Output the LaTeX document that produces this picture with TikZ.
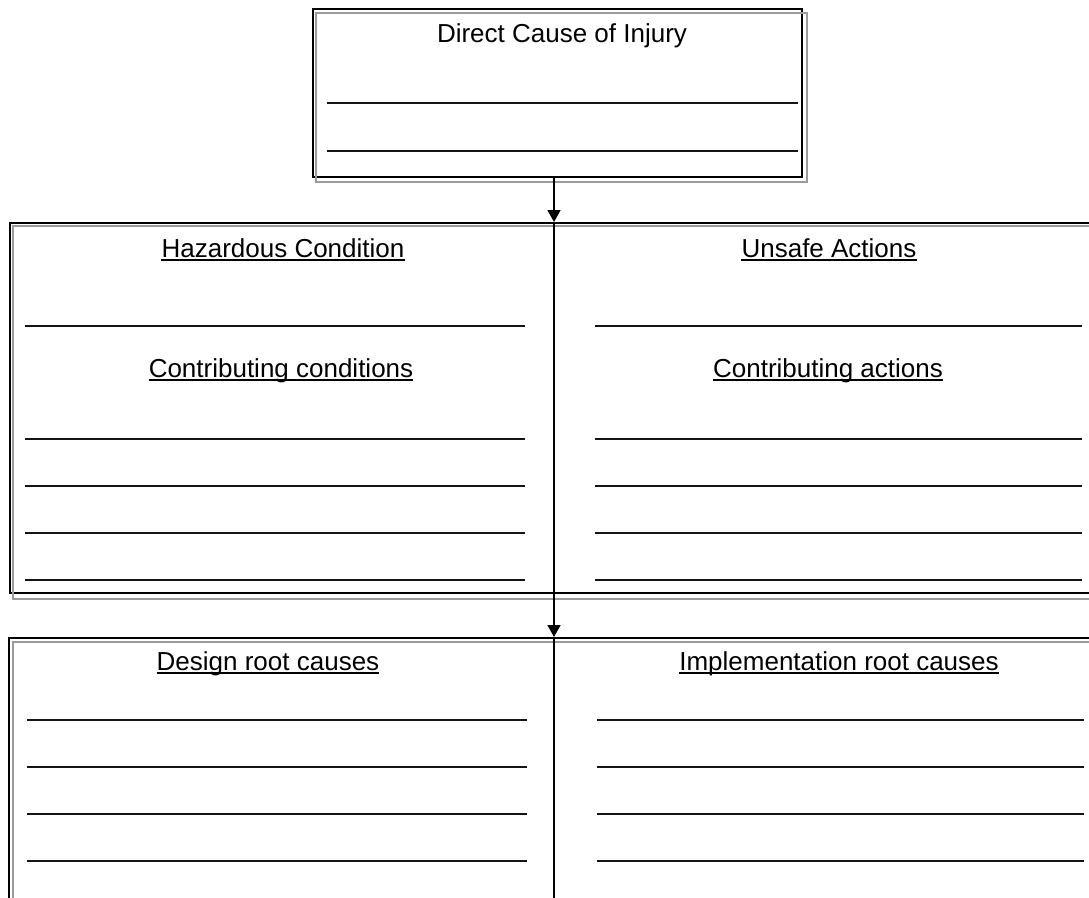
\documentclass[tikz,border=0pt]{standalone}
\usepackage{fontspec}
\setmainfont{Liberation Sans}
\usetikzlibrary{arrows.meta,calc}

\tikzset{
  frame/.style={draw=black, line width=1.6pt, anchor=north west, inner sep=0pt},
  shade/.style={draw={rgb,255:red,155;green,155;blue,155}, line width=2.2pt},
  blank/.style={draw={rgb,255:red,20;green,20;blue,20}, line width=2.2pt},
  head/.style={inner sep=0pt, anchor=base, font=\fontsize{26}{30}\selectfont},
  ul/.style={draw=black, line width=1.6pt},
  link/.style={draw=black, line width=1.6pt, -{Triangle[length=12pt,width=13pt]}},
}

\begin{document}
\begin{tikzpicture}[x=1pt,y=1pt,yscale=-1,xscale=1]
\useasboundingbox (0,0) rectangle (1089,897);
\clip (0,0) rectangle (1089,897);

%Frames
\node[frame, minimum width=489pt, minimum height=168pt] (cause) at (312,8) {};
\node[frame, minimum width=1090pt, minimum height=370pt] (acts) at (9,222) {};
\node[frame, minimum width=1090pt, minimum height=300pt] (roots) at (8,637) {};
%gray copies
\draw[shade] ($(cause.north west)+(4,5)$) rectangle ($(cause.south east)+(4,4)$);
\draw[shade] ($(acts.north west)+(4,4)$) rectangle ($(acts.south east)+(4,5)$);
\draw[shade] ($(roots.north west)+(5,5)$) rectangle ($(roots.south east)+(5,5)$);

%Spine with arrows
\coordinate (spine) at (554,0);
\draw[link] (spine |- cause.south) -- (spine |- acts.north);
\draw[link] (spine |- acts.north) -- (spine |- roots.north);
\draw[ul] (spine |- roots.north) -- (spine |- roots.south);

%Top box
\node[head] (direct) at (562,42) {Direct Cause of Injury};
\foreach \y in {103,151} {
  \draw[blank] (327,\y) -- (798,\y);
}

%Headings (underlined)
\foreach \nm/\x/\y/\txt in {haz/283/257/Hazardous Condition, unsafe/829/257/Unsafe Actions,
    ccond/281/377/Contributing conditions, cact/828/377/Contributing actions,
    design/268/670/Design root causes, impl/839/670/Implementation root causes} {
  \node[head] (\nm) at (\x,\y) {\txt};
  \draw[ul] ($(\nm.base west)+(0,3)$) -- ($(\nm.base east)+(0,3)$);
}

%Lines, middle box
\draw[blank] (25,326) -- (525,326);
\draw[blank] (595,326) -- (1082,326);
\foreach \y in {439,486,533,580} {
  \draw[blank] (25,\y) -- (525,\y);
  \draw[blank] (595,\y) -- (1082,\y);
}

%Lines, bottom box
\foreach \y in {720,767,814,861} {
  \draw[blank] (27,\y) -- (527,\y);
  \draw[blank] (597,\y) -- (1084,\y);
}

\end{tikzpicture}
\end{document}
